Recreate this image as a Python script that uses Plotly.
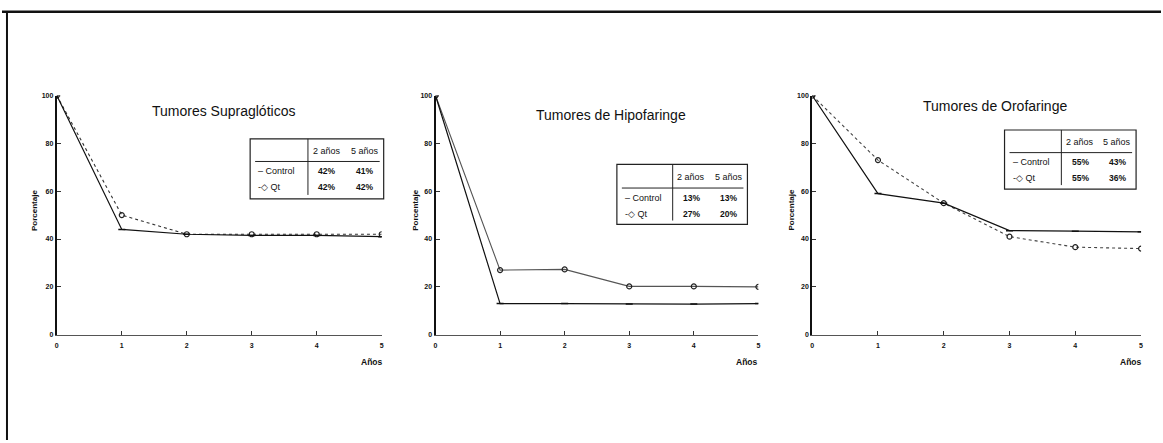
import plotly.graph_objects as go

W, H = 1163, 443

# --- data -----------------------------------------------------------------
years = [0, 1, 2, 3, 4, 5]
year_labels = ["0", "1", "2", "3", "4", "5"]
y_ticks = [0, 20, 40, 60, 80, 100]
y_tick_labels = ["0", "20", "40", "60", "80", "100"]

titles = ["Tumores Supraglóticos", "Tumores de Hipofaringe", "Tumores de Orofaringe"]
series_names = ["Control", "Qt"]

supra_control = [100, 44, 42, 41.5, 41.5, 41]
supra_qt = [100, 50, 42, 42, 42, 42]

hipo_control = [100, 13, 13, 12.8, 12.8, 13]
hipo_qt = [100, 27, 27.3, 20.2, 20.2, 20]

oro_control = [100, 59, 55, 43.5, 43.3, 43]
oro_qt = [100, 73, 55, 41, 36.6, 36]

table_header = ["2 años", "5 años"]
supra_table = [["42%", "41%"], ["42%", "42%"]]
hipo_table = [["13%", "13%"], ["27%", "20%"]]
oro_table = [["55%", "43%"], ["55%", "36%"]]

# --- layout helpers ------------------------------------------------------
def px(x):
    return x / W


def py(y):
    return 1 - y / H


FONT = "Liberation Sans, Arial, sans-serif"
INK = "#111111"

# panel frames in pixels: (left, right, top, bottom)
frames = [(55, 381, 93, 336), (435, 759, 93, 336), (813, 1143, 93, 336)]
title_pos = [(222, 109), (611, 113), (996, 104)]
ylab_x = [32, 415, 792]
anos_x = [371, 748, 1133]
# table boxes: (left, right, top, bottom, divider x, rule y)
tables = [
    (249, 383, 137, 198, 307, 160),
    (617, 748, 163, 224, 673, 187),
    (1006, 1138, 128, 188, 1063, 151),
]
table_data = [supra_table, hipo_table, oro_table]

data_sets = [
    (supra_control, supra_qt),
    (hipo_control, hipo_qt),
    (oro_control, oro_qt),
]
qt_dash = ["dot", "solid", "dot"]
qt_color = ["#333333", "#555555", "#444444"]

fig = go.Figure()
for i, (ctrl, qt) in enumerate(data_sets):
    xa = "x" if i == 0 else f"x{i + 1}"
    ya = "y" if i == 0 else f"y{i + 1}"
    fig.add_trace(go.Scatter(
        x=years, y=qt, xaxis=xa, yaxis=ya, mode="lines+markers",
        name=series_names[1], showlegend=False,
        line=dict(color=qt_color[i], width=1.1, dash=qt_dash[i]),
        marker=dict(symbol="circle-open", size=5, color="#222222",
                    line=dict(width=1.2)),
    ))
    fig.add_trace(go.Scatter(
        x=years, y=ctrl, xaxis=xa, yaxis=ya, mode="lines+markers",
        name=series_names[0], showlegend=False,
        line=dict(color=INK, width=1.2),
        marker=dict(symbol="line-ew", size=5, color=INK,
                    line=dict(width=1.5, color=INK)),
    ))

layout = dict(
    width=W, height=H, margin=dict(l=0, r=0, t=0, b=0),
    paper_bgcolor="white", plot_bgcolor="white",
    font=dict(family=FONT, color=INK),
)
for i, (l, r, t, b) in enumerate(frames):
    sfx = "" if i == 0 else str(i + 1)
    layout["xaxis" + sfx] = dict(
        domain=[px(l), px(r)], anchor="y" + sfx, range=[0, 5],
        tickvals=years, ticktext=year_labels, ticks="inside", ticklen=4,
        tickcolor="#333", showline=True, linecolor="#555", linewidth=1,
        showgrid=False, zeroline=False, ticklabelstandoff=4,
        tickfont=dict(size=7, family=FONT, weight="bold", color=INK),
    )
    layout["yaxis" + sfx] = dict(
        domain=[py(b), py(t)], anchor="x" + sfx, range=[0, 100],
        tickvals=y_ticks, ticktext=y_tick_labels, ticks="inside", ticklen=4,
        tickcolor="#333", showline=True, linecolor=INK, linewidth=2,
        showgrid=False, zeroline=False,
        tickfont=dict(size=7, family=FONT, weight="bold", color=INK),
    )
fig.update_layout(**layout)

shapes = []
annotations = []


def note(text, x, y, size, weight="normal", angle=0, xanchor="center"):
    annotations.append(dict(text=text, x=px(x), y=py(y), xref="paper",
                            yref="paper", showarrow=False, xanchor=xanchor,
                            yanchor="middle", textangle=angle,
                            font=dict(size=size, family=FONT, color=INK,
                                      weight=weight)))


# page border lines
shapes.append(dict(type="line", xref="paper", yref="paper",
                   x0=0, x1=1, y0=py(8), y1=py(8),
                   line=dict(color=INK, width=2.5)))
shapes.append(dict(type="line", xref="paper", yref="paper",
                   x0=px(5), x1=px(5), y0=py(8), y1=0,
                   line=dict(color=INK, width=2)))

for i in range(3):
    tx, ty = title_pos[i]
    note(titles[i], tx, ty, 14)
    l, r, t, b = frames[i]
    note("Porcentaje", ylab_x[i], (t + b) / 2 - 5, 8, weight="bold", angle=-90)
    note("Años", anos_x[i], 364, 8.5, weight="bold")

    # summary table
    tl, tr, tt, tb, dx, ry = tables[i]
    shapes.append(dict(type="rect", xref="paper", yref="paper",
                       x0=px(tl), x1=px(tr), y0=py(tb), y1=py(tt),
                       line=dict(color="#222", width=1.2)))
    shapes.append(dict(type="line", xref="paper", yref="paper",
                       x0=px(dx), x1=px(dx), y0=py(tb - 4), y1=py(tt),
                       line=dict(color="#222", width=1)))
    shapes.append(dict(type="line", xref="paper", yref="paper",
                       x0=px(tl + 5), x1=px(tr - 4), y0=py(ry), y1=py(ry),
                       line=dict(color="#222", width=1)))
    col_w = (tr - dx) / 2
    head_y = (tt + ry) / 2 + 1
    row_ys = [ry + 10, ry + 26]
    for c, h in enumerate(table_header):
        note(h, dx + col_w * (c + 0.5), head_y, 9)
    for rr, name in enumerate(series_names):
        sym = "–" if rr == 0 else "-◇"
        note(f"{sym} {name}", tl + 6, row_ys[rr], 9, xanchor="left")
        for c in range(2):
            note(table_data[i][rr][c], dx + col_w * (c + 0.5), row_ys[rr], 8.5,
                 weight="bold")

fig.update_layout(shapes=shapes, annotations=annotations)
fig.write_html("out.html")
